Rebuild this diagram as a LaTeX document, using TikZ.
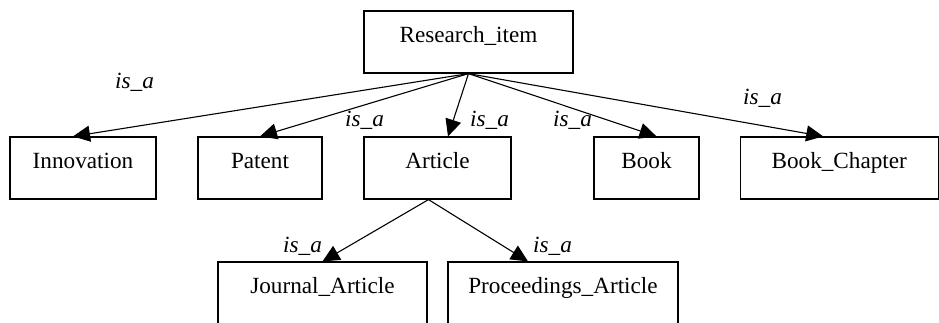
\documentclass[tikz,border=0pt]{standalone}
\usepackage{fontspec}
\setmainfont{Liberation Serif}
\usetikzlibrary{arrows.meta,calc}
\tikzset{
  cls/.style={draw, line width=1.2pt, minimum height=62pt, inner sep=0pt,
    text height=20pt, text depth=20pt, font=\fontsize{23.2}{28}\selectfont},
  rel/.style={line width=1.1pt, -{Triangle[length=17pt,width=16pt]}},
  lbl/.style={anchor=base west, inner sep=0pt, font=\fontsize{23.2}{28}\selectfont\itshape}
}
\begin{document}
\begin{tikzpicture}[x=1pt,y=-1pt]
\useasboundingbox (0,0) rectangle (939,322);
\clip (0,0) rectangle (939,322);
% nodes
\node[cls, minimum width=209pt] (ri) at (468.5,42) {Research\_item};
\node[cls, minimum width=146pt] (inn) at (83,168) {Innovation};
\node[cls, minimum width=124pt] (pat) at (260,168) {Patent};
\node[cls, minimum width=147pt] (art) at (437.5,168) {Article};
\node[cls, minimum width=105pt] (book) at (646.5,168) {Book};
\node[cls, minimum width=198pt] (bc) at (839.25,168) {Book\_Chapter};
\node[cls, minimum width=209pt] (ja) at (322.5,293) {Journal\_Article};
\node[cls, minimum width=230pt] (pa) at (563,293) {Proceedings\_Article};
% connectors
\coordinate (riout) at (ri.south);
\coordinate (artout) at ($(art.south)+(-9,0)$);
\draw[rel] (riout) -- ($(inn.north)+(-10,0)$);
\draw[rel] (riout) -- (pat.north);
\draw[rel] (riout) -- ($(art.north)+(10.5,0)$);
\draw[rel] (riout) -- ($(book.north)+(10,0)$);
\draw[rel] (riout) -- ($(bc.north)+(-16,0)$);
\draw[rel] (artout) -- (ja.north);
\draw[rel] (artout) -- ($(pa.north)+(-35,0)$);
% labels
\node[lbl] (l1) at (115,88) {is\_a};
\node[lbl] (l2) at (345,126) {is\_a};
\node[lbl] (l3) at (470,126) {is\_a};
\node[lbl] (l4) at (553,126) {is\_a};
\node[lbl] (l5) at (743,104) {is\_a};
\node[lbl] (l6) at (283,252) {is\_a};
\node[lbl] (l7) at (533,252) {is\_a};
\end{tikzpicture}
\end{document}
